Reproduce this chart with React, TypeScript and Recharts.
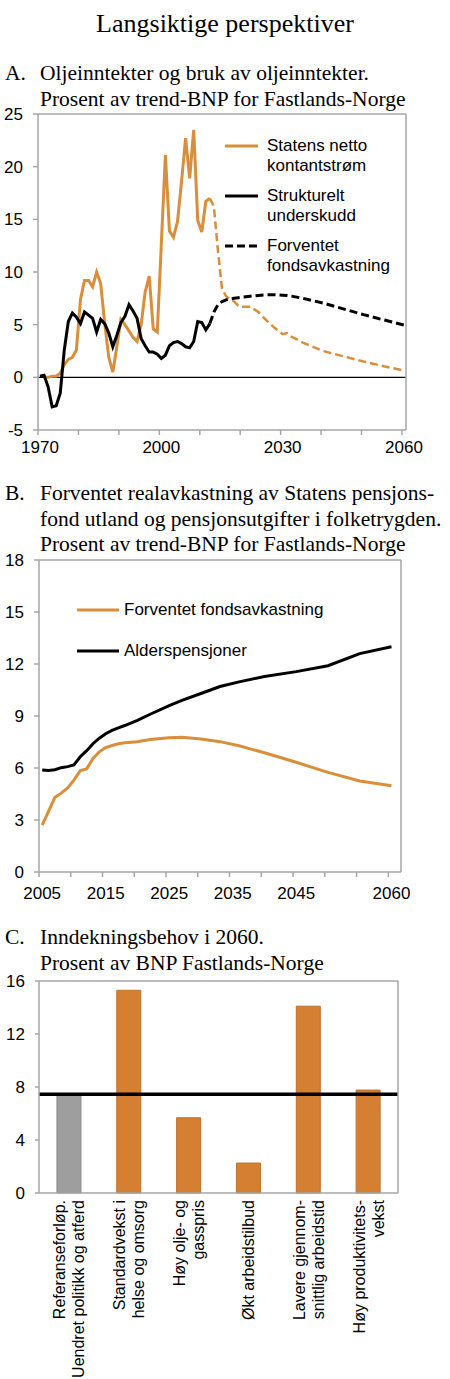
import React from "react";
import {
  LineChart, Line, XAxis, YAxis, ReferenceLine, BarChart, Bar, Cell,
} from "recharts";

const ORANGE = "#D98E3B";
const BAR_ORANGE = "#D47F32";
const BAR_GREY = "#9E9E9E";
const AXIS = "#A6A6A6";
const SANS = "'Liberation Sans', Arial, sans-serif";
const SERIF = "'Liberation Serif', 'Times New Roman', serif";

// --- A: oil revenue and use of oil revenue, 1970-2060
const histStart = 1970;
const netCashFlow = [
  null, 0.0, 0.0, 0.1, 0.1, 0.4, 1.2, 1.7, 1.9, 2.6,
  7.4, 9.2, 9.2, 8.6, 10.0, 8.9, 5.1, 1.9, 0.5, 2.9,
  5.5, 5.0, 4.4, 3.8, 3.4, 5.0, 8.1, 9.6, 4.6, 4.3,
  12.7, 21.1, 13.9, 13.3, 14.8, 18.6, 22.7, 18.9, 23.5, 14.9,
  13.8, 16.7, 17.0,
];
const structuralDeficit = [
  0.1, 0.2, -0.9, -2.8, -2.7, -1.5, 2.6, 5.3, 6.1, 5.7,
  5.1, 6.2, 5.9, 5.6, 4.3, 5.5, 5.1, 4.2, 2.9, 4.0,
  5.2, 5.8, 6.9, 6.3, 5.6, 3.7, 3.0, 2.4, 2.4, 2.2,
  1.8, 2.1, 3.0, 3.3, 3.4, 3.2, 2.9, 2.8, 3.4, 5.3,
  5.2, 4.5, 5.1,
];
const projYears = [
  2012, 2013, 2014, 2015, 2016, 2017, 2018, 2019, 2020, 2022, 2024,
  2026, 2028, 2030, 2031, 2032, 2035, 2040, 2045, 2050, 2055, 2060,
];
const netCashFlowProj = [
  17.0, 16.2, 12.0, 8.4, 7.7, 7.4, 7.2, 6.8, 6.7, 6.7, 6.2,
  5.4, 4.7, 4.1, 4.2, 3.9, 3.3, 2.5, 2.0, 1.5, 1.05, 0.65,
];
const fundReturnProj = [
  5.1, 6.2, 6.9, 7.2, 7.35, 7.45, 7.5, 7.55, 7.6, 7.7, 7.78,
  7.83, 7.85, 7.8, 7.77, 7.72, 7.5, 7.05, 6.5, 5.95, 5.45, 4.97,
];
const yTicksA = [-5, 0, 5, 10, 15, 20, 25];
const xLabelsA = [1970, 2000, 2030, 2060];
const legendA = [
  { lines: ["Statens netto", "kontantstrøm"], color: ORANGE, dash: undefined },
  { lines: ["Strukturelt", "underskudd"], color: "#000", dash: undefined },
  { lines: ["Forventet", "fondsavkastning"], color: "#000", dash: "8 4" },
];

// --- B: expected fund return and old-age pensions
const yearsB = [
  2005, 2006, 2007, 2008, 2009, 2010, 2011, 2012, 2013, 2014, 2015, 2016, 2017,
  2018, 2020, 2022, 2025, 2027, 2030, 2033, 2036, 2040, 2045, 2050, 2055, 2060,
];
const fundReturnB = [
  2.7, 3.5, 4.3, 4.55, 4.85, 5.3, 5.85, 5.95, 6.55, 6.93, 7.18, 7.3, 7.4,
  7.46, 7.52, 7.64, 7.75, 7.77, 7.67, 7.52, 7.28, 6.88, 6.33, 5.75, 5.25, 4.97,
];
const oldAgePensions = [
  5.88, 5.85, 5.9, 6.02, 6.08, 6.18, 6.65, 7.0, 7.4, 7.72, 7.98, 8.17, 8.32,
  8.45, 8.75, 9.1, 9.6, 9.9, 10.3, 10.7, 10.97, 11.28, 11.56, 11.9, 12.6, 13.0,
];
const yTicksB = [0, 3, 6, 9, 12, 15, 18];
const xLabelsB = [2005, 2015, 2025, 2035, 2045, 2060];
const legendB = [
  { label: "Forventet fondsavkastning", color: ORANGE },
  { label: "Alderspensjoner", color: "#000" },
];

// --- C: financing need in 2060
const categoriesC = [
  "Referanseforløp.|Uendret politikk og atferd",
  "Standardvekst i|helse og omsorg",
  "Høy olje- og|gasspris",
  "Økt arbeidstilbud|",
  "Lavere gjennom-|snittlig arbeidstid",
  "Høy produktivitets-|vekst",
];
const needC = [7.45, 15.3, 5.68, 2.26, 14.1, 7.77];
const referenceC = 7.45;
const yTicksC = [0, 4, 8, 12, 16];

const pts = (xs: number[], ys: (number | null)[]) => xs.map((x, i) => ({ x, y: ys[i] }));
const histYears = netCashFlow.map((_, i) => histStart + i);
const histOil = pts(histYears, netCashFlow);
const histDeficit = pts(histYears, structuralDeficit);
const projOil = pts(projYears, netCashFlowProj);
const projFund = pts(projYears, fundReturnProj);
const lineFundB = pts(yearsB, fundReturnB);
const linePensionB = pts(yearsB, oldAgePensions);
const dataC = categoriesC.map((name, i) => ({ name, v: needC[i] }));

const ticksA = Array.from({ length: 10 }, (_, i) => 1969.5 + 10 * i);
const boundaryTicksB = Array.from({ length: 12 }, (_, i) => 2004.5 + 5 * i);
const ticksB = [...boundaryTicksB, ...xLabelsB].sort((a, b) => a - b);

const tickText = { fill: "#000", fontSize: 17, fontFamily: SANS };
const axisLine = { stroke: AXIS, strokeWidth: 1.5 };

const TickB = (props: any) => {
  const { x, y, payload } = props;
  const v = payload.value as number;
  if (v % 1 !== 0) {
    return <line x1={x} x2={x} y1={y - 15} y2={y - 10} stroke={AXIS} strokeWidth={1.5} />;
  }
  return (
    <text x={x} y={y} dy="0.71em" textAnchor="middle" {...tickText}>{v}</text>
  );
};

const CatTick = (props: any) => {
  const { x, y, payload } = props;
  const [l1, l2] = String(payload.value).split("|");
  return (
    <text transform={`translate(${x},${y}) rotate(-90)`} textAnchor="end"
      fontSize={16} fontFamily={SANS} fill="#000">
      <tspan x={0} y={l2 ? -3.5 : 6}>{l1}</tspan>
      {l2 ? <tspan x={0} y={15.5}>{l2}</tspan> : null}
    </text>
  );
};

const LegendA = ({ left, top }: { left: number; top: number }) => (
  <div style={{ position: "absolute", left, top, fontFamily: SANS, fontSize: 17, color: "#000" }}>
    {legendA.map((it) => (
      <div key={it.lines[0]} style={{ display: "flex", alignItems: "flex-start", height: 50 }}>
        <svg width={33} height={20} style={{ marginRight: 9 }}>
          <line x1={0} x2={33} y1={10} y2={10} stroke={it.color} strokeWidth={3} strokeDasharray={it.dash} />
        </svg>
        <div style={{ lineHeight: "20px", whiteSpace: "nowrap" }}>
          {it.lines.map((l) => <div key={l}>{l}</div>)}
        </div>
      </div>
    ))}
  </div>
);

const LegendB = ({ left, top }: { left: number; top: number }) => (
  <div style={{ position: "absolute", left, top, fontFamily: SANS, fontSize: 17, color: "#000" }}>
    {legendB.map((it) => (
      <div key={it.label} style={{ display: "flex", alignItems: "center", height: 41 }}>
        <svg width={42} height={20} style={{ marginRight: 5 }}>
          <line x1={0} x2={42} y1={10} y2={10} stroke={it.color} strokeWidth={3} />
        </svg>
        <span style={{ lineHeight: "20px", whiteSpace: "nowrap" }}>{it.label}</span>
      </div>
    ))}
  </div>
);

const Heading = ({ top, tag, lines }: { top: number; tag: string; lines: string[] }) => (
  <div style={{ position: "absolute", top, left: 0, width: 450, fontFamily: SERIF, fontSize: 21.5, lineHeight: "25.5px", whiteSpace: "nowrap" }}>
    <div style={{ position: "absolute", left: 5 }}>{tag}</div>
    <div style={{ position: "absolute", left: 40 }}>
      {lines.map((l) => <div key={l}>{l}</div>)}
    </div>
  </div>
);

export default function App() {
  return (
    <div style={{ position: "relative", width: 450, height: 1379, background: "#fff" }}>
      <style>{`body{margin:0}`}</style>
      <div style={{ position: "absolute", top: 9, left: 0, width: 450, textAlign: "center", fontFamily: SERIF, fontSize: 26, lineHeight: "30px" }}>
        Langsiktige perspektiver
      </div>

      <Heading top={61} tag="A." lines={["Oljeinntekter og bruk av oljeinntekter.", "Prosent av trend-BNP for Fastlands-Norge"]} />
      <div style={{ position: "absolute", top: 100, left: 0 }}>
        <LineChart width={450} height={360} margin={{ top: 14, right: 0, bottom: 0, left: 0 }}>
          <XAxis type="number" dataKey="x" domain={[1969.5, 2060.5]} ticks={ticksA} interval={0}
            height={30} tickSize={5} tickMargin={6} axisLine={axisLine}
            tickLine={{ stroke: AXIS, strokeWidth: 1.5 }} tick={{ ...tickText, dx: 2 }}
            tickFormatter={(v: number) => (xLabelsA.includes(v + 0.5) ? String(v + 0.5) : "")} />
          <YAxis yAxisId="l" domain={[-5, 25]} ticks={yTicksA} width={38} tickSize={5} tickMargin={10}
            axisLine={axisLine} tickLine={{ stroke: AXIS, strokeWidth: 1.5 }} tick={tickText} />
          <YAxis yAxisId="r" orientation="right" domain={[-5, 25]} ticks={yTicksA} width={44} tickSize={5} tickMargin={10}
            axisLine={axisLine} tickLine={{ stroke: AXIS, strokeWidth: 1.5 }} tick={tickText} />
          <ReferenceLine yAxisId="l" y={25} stroke={AXIS} strokeWidth={1.5} />
          <ReferenceLine yAxisId="l" y={0} stroke="#000" strokeWidth={1.2} />
          <Line yAxisId="l" data={histOil} dataKey="y" stroke={ORANGE} strokeWidth={3} dot={false} isAnimationActive={false} />
          <Line yAxisId="l" data={projOil} dataKey="y" stroke={ORANGE} strokeWidth={2.5} strokeDasharray="8 4" dot={false} isAnimationActive={false} />
          <Line yAxisId="l" data={histDeficit} dataKey="y" stroke="#000" strokeWidth={3} dot={false} isAnimationActive={false} />
          <Line yAxisId="l" data={projFund} dataKey="y" stroke="#000" strokeWidth={3} strokeDasharray="8 4" dot={false} isAnimationActive={false} />
        </LineChart>
      </div>
      <LegendA left={225} top={136} />

      <Heading top={481} tag="B." lines={["Forventet realavkastning av Statens pensjons-", "fond utland og pensjonsutgifter i folketrygden.", "Prosent av trend-BNP for Fastlands-Norge"]} />
      <div style={{ position: "absolute", top: 540, left: 0 }}>
        <LineChart width={450} height={362} margin={{ top: 20, right: 0, bottom: 0, left: 0 }}>
          <XAxis type="number" dataKey="x" domain={[2004.5, 2061.5]} ticks={ticksB} interval={0}
            height={30} tickSize={5} tickMargin={10} axisLine={axisLine} tickLine={false} tick={TickB} />
          <YAxis yAxisId="l" domain={[0, 18]} ticks={yTicksB} width={39} tickSize={5} tickMargin={10}
            axisLine={axisLine} tickLine={{ stroke: AXIS, strokeWidth: 1.5 }} tick={tickText} />
          <YAxis yAxisId="r" orientation="right" domain={[0, 18]} ticks={yTicksB} width={49} tickSize={5} tickMargin={10}
            axisLine={axisLine} tickLine={{ stroke: AXIS, strokeWidth: 1.5 }} tick={tickText} />
          <ReferenceLine yAxisId="l" y={18} stroke={AXIS} strokeWidth={1.5} />
          <Line yAxisId="l" data={lineFundB} dataKey="y" stroke={ORANGE} strokeWidth={3} dot={false} isAnimationActive={false} />
          <Line yAxisId="l" data={linePensionB} dataKey="y" stroke="#000" strokeWidth={3} dot={false} isAnimationActive={false} />
        </LineChart>
      </div>
      <LegendB left={77} top={589} />

      <Heading top={925} tag="C." lines={["Inndekningsbehov i 2060.", "Prosent av BNP Fastlands-Norge"]} />
      <div style={{ position: "absolute", top: 960, left: 0 }}>
        <BarChart width={450} height={419} data={dataC} margin={{ top: 21, right: 0, bottom: 0, left: 0 }} barCategoryGap="30%">
          <XAxis dataKey="name" height={186} interval={0} tickLine={false} tickSize={0} tickMargin={7}
            axisLine={axisLine} tick={CatTick} />
          <YAxis yAxisId="l" domain={[0, 16]} ticks={yTicksC} width={39} tickSize={4} tickMargin={10}
            axisLine={axisLine} tickLine={{ stroke: AXIS, strokeWidth: 1.5 }} tick={tickText} />
          <YAxis yAxisId="r" orientation="right" domain={[0, 16]} ticks={yTicksC} width={52} tickSize={4} tickMargin={10}
            axisLine={axisLine} tickLine={{ stroke: AXIS, strokeWidth: 1.5 }} tick={tickText} />
          <ReferenceLine yAxisId="l" y={16} stroke={AXIS} strokeWidth={1.5} />
          <Bar yAxisId="l" dataKey="v" isAnimationActive={false}>
            {dataC.map((d, i) => (
              <Cell key={d.name} fill={i === 0 ? BAR_GREY : BAR_ORANGE} stroke={i === 0 ? "#8C8C8C" : "#C0712B"} strokeWidth={1} />
            ))}
          </Bar>
          <ReferenceLine yAxisId="l" y={referenceC} stroke="#000" strokeWidth={3.5} />
        </BarChart>
      </div>
    </div>
  );
}
